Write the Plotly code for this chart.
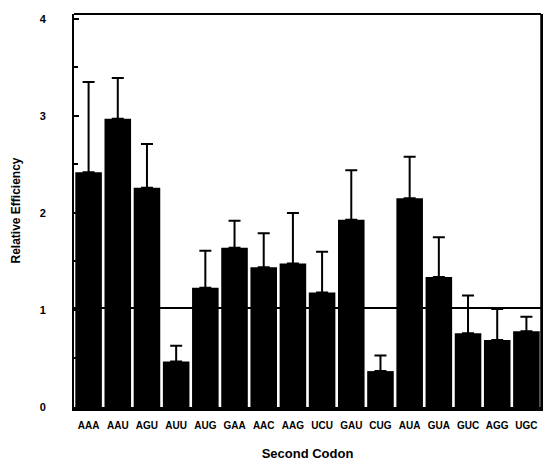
import plotly.graph_objects as go

codons = ["AAA", "AAU", "AGU", "AUU", "AUG", "GAA", "AAC", "AAG",
          "UCU", "GAU", "CUG", "AUA", "GUA", "GUC", "AGG", "UGC"]
efficiency = [2.42, 2.97, 2.26, 0.47, 1.23, 1.64, 1.44, 1.48,
              1.18, 1.93, 0.37, 2.15, 1.34, 0.76, 0.69, 0.78]
error_up = [0.93, 0.42, 0.45, 0.16, 0.38, 0.28, 0.35, 0.52,
            0.42, 0.51, 0.16, 0.43, 0.41, 0.39, 0.32, 0.15]
reference_level = 1.02
y_ticks = [0, 1, 2, 3, 4]

FONT = "Liberation Sans"

fig = go.Figure()
fig.add_trace(go.Bar(
    x=codons, y=efficiency,
    marker=dict(color="black", line=dict(width=0)),
    error_y=dict(type="data", array=error_up,
                 arrayminus=[0] * len(error_up), symmetric=False,
                 color="black", thickness=2, width=6),
    showlegend=False,
))

fig.add_shape(type="line", xref="paper", yref="y", x0=0, x1=1,
              y0=reference_level, y1=reference_level,
              line=dict(color="black", width=2), layer="below")

fig.update_layout(
    width=545, height=462,
    margin=dict(l=74, r=2, t=14, b=54),
    plot_bgcolor="white", paper_bgcolor="white",
    bargap=0.09,
    font=dict(family=FONT, color="black"),
)
fig.update_xaxes(
    showline=True, linecolor="black", linewidth=4, mirror=False,
    ticks="", showgrid=False,
    ticklabelstandoff=6,
    tickfont=dict(family=FONT, size=10, weight="bold"),
    title=dict(text="Second Codon", font=dict(family=FONT, size=13, weight="bold"),
               standoff=20),
)
fig.update_yaxes(
    range=[0, 4.05], tickvals=y_ticks,
    showline=True, linecolor="black", linewidth=2, mirror=True,
    ticks="inside", ticklen=5, tickwidth=1.5, tickcolor="black",
    minor=dict(dtick=0.5, ticks="inside", ticklen=4, tickcolor="black"),
    showgrid=False, zeroline=False,
    tickfont=dict(family=FONT, size=11, weight="bold"),
    ticklabelstandoff=24,
    title=dict(text="Relative Efficiency", font=dict(family=FONT, size=12, weight="bold"),
               standoff=16),
)
# top/right frame lines
fig.add_shape(type="line", xref="paper", yref="paper", x0=0, x1=1, y0=1, y1=1,
              line=dict(color="black", width=2))
fig.add_shape(type="line", xref="paper", yref="paper", x0=1, x1=1, y0=0, y1=1,
              line=dict(color="black", width=1.5))

fig.write_html("out.html")
